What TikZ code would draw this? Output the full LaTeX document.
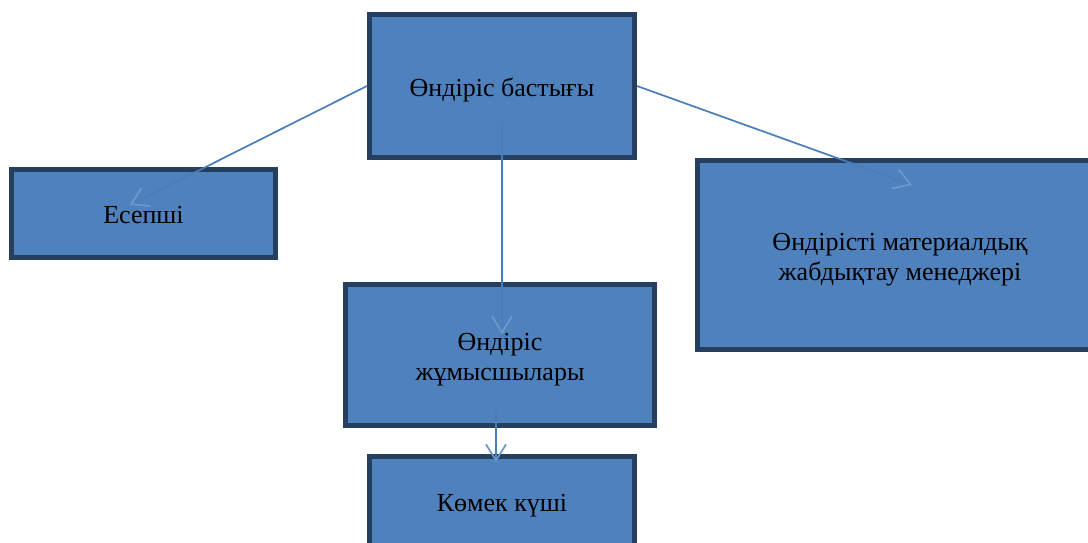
\documentclass[tikz,border=0pt]{standalone}
\usepackage{fontspec}
\setmainfont{Liberation Serif}
\usetikzlibrary{arrows.meta}
\definecolor{boxfill}{HTML}{4F81BD}
\definecolor{boxline}{HTML}{243F60}
\definecolor{arrowc}{HTML}{4A7EBB}
\definecolor{headc}{HTML}{6C98CE}
\begin{document}
\begin{tikzpicture}[x=1pt,y=-1pt,
  box/.style={draw=boxline, fill=boxfill, line width=5pt, inner sep=0pt, align=center,
              font=\fontsize{26}{30}\selectfont},
  conn/.style={draw=arrowc, line width=1.7pt, -{Straight Barb[length=16pt,width=20pt,color=headc]}}]
\useasboundingbox (0,0) rectangle (1088,543);
\clip (0,0) rectangle (1088,543);
\node[box, minimum width=265pt, minimum height=143pt, text height=26pt, text depth=5pt] (head) at (502,86) {Өндіріс бастығы};
\node[box, minimum width=264pt, minimum height=88pt, text height=24pt, text depth=5pt] (acc) at (143.5,213.5) {Есепші};
\node[box, minimum width=405pt, minimum height=189pt, text height=55pt, text depth=5pt] (mgr) at (900,255) {Өндірісті материалдық\\жабдықтау менеджері};
\node[box, minimum width=309pt, minimum height=141pt, text height=55pt, text depth=5pt] (work) at (500,355) {Өндіріс\\жұмысшылары};
\node[box, minimum width=265pt, minimum height=94pt, text height=20pt, text depth=5pt] (help) at (502,503.5) {Көмек күші};
\coordinate (accend) at (130,205);
\coordinate (mgrend) at (912,185);
\coordinate (headin) at (502,122);
\coordinate (workend) at (502,334);
\coordinate (workin) at (496,407);
\coordinate (helpend) at (496,462);
\draw[conn] (head.west) -- (accend);
\draw[conn] (head.east) -- (mgrend);
\draw[conn] (headin) -- (workend);
\draw[conn] (workin) -- (helpend);
\end{tikzpicture}
\end{document}
